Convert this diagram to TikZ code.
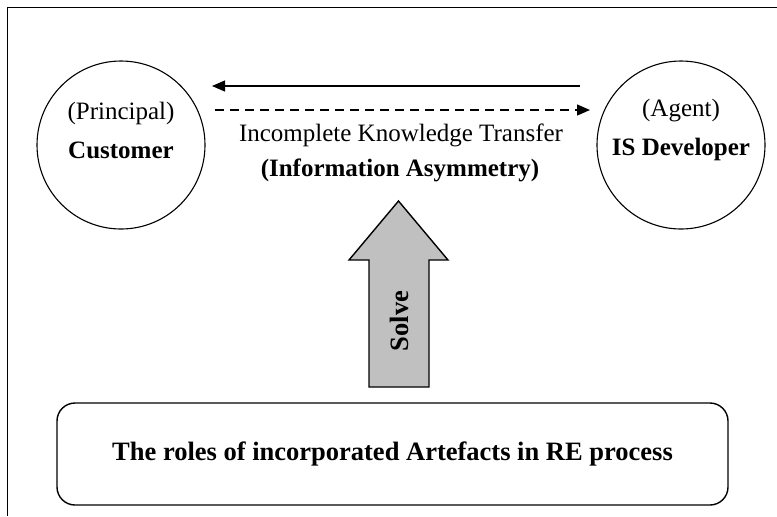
\documentclass[tikz,border=0pt]{standalone}
\usepackage{fontspec}
\setmainfont{Liberation Serif}
\usetikzlibrary{positioning, arrows.meta}
\definecolor{arrGray}{HTML}{C0C0C0}
\tikzset{
  every node/.style={font=\fontsize{12.5}{19.5}\selectfont},
  arr/.style={-{Triangle[length=6.5pt, width=5.5pt]}, line width=0.6pt},
  arrd/.style={arr, dash pattern=on 4.5pt off 3pt},
  party/.style={draw, circle, line width=0.55pt, minimum size=84pt, inner sep=0pt},
  lbl/.style={align=center, inner sep=0pt},
  roleBox/.style={draw, rounded corners=9pt, line width=0.7pt, minimum width=335.5pt,
                  minimum height=51pt, font=\fontsize{13.25}{16}\selectfont\bfseries},
  blockArr/.style={draw, fill=arrGray, line width=0.7pt, line join=miter},
}
\begin{document}
\begin{tikzpicture}[x=0.5pt, y=-0.5pt]
  \useasboundingbox (0,0) rectangle (777,516);
  % --- outer frame (cut off at right and bottom) ---
  \draw[line width=0.8pt] (777,7.5) -- (7.5,7.5) -- (7.5,516);
  % --- the two parties ---
  \node[party] (customer) at (121,145) {};
  \node[party] (developer) at (681,145) {};
  \node[lbl] (customerTxt) at ([yshift=7.5pt]customer.center) {(Principal)\\ \textbf{Customer}};
  \node[lbl] (developerTxt) at ([yshift=7.5pt]developer.center) {(Agent)\\ \textbf{IS Developer}};
  % --- knowledge flow between them ---
  \coordinate (backStart) at (580,86);
  \coordinate (backEnd) at (212,86);
  \coordinate (fwdStart) at (215,110);
  \coordinate (fwdEnd) at (590,110);
  \draw[arr] (backStart) -- (backEnd);
  \draw[arrd] (fwdStart) -- (fwdEnd);
  \node[lbl] (transferTxt) at (401,135) {Incomplete Knowledge Transfer};
  \node[lbl, font=\fontsize{12.5}{15}\selectfont\bfseries] (asymTxt) at (400,170) {(Information Asymmetry)};
  % --- block arrow: artefacts solve the asymmetry ---
  \draw[blockArr] (369,387) -- (369,260) -- (349,260) -- (398.5,201) -- (448,260)
    -- (429,260) -- (429,387) -- cycle;
  \node[lbl, rotate=90, font=\fontsize{13.25}{16}\selectfont\bfseries] (solveTxt) at (399,321) {Solve};
  % --- bottom box ---
  \node[roleBox] (roles) at (392.5,454) {The roles of incorporated Artefacts in RE process};
\end{tikzpicture}
\end{document}
